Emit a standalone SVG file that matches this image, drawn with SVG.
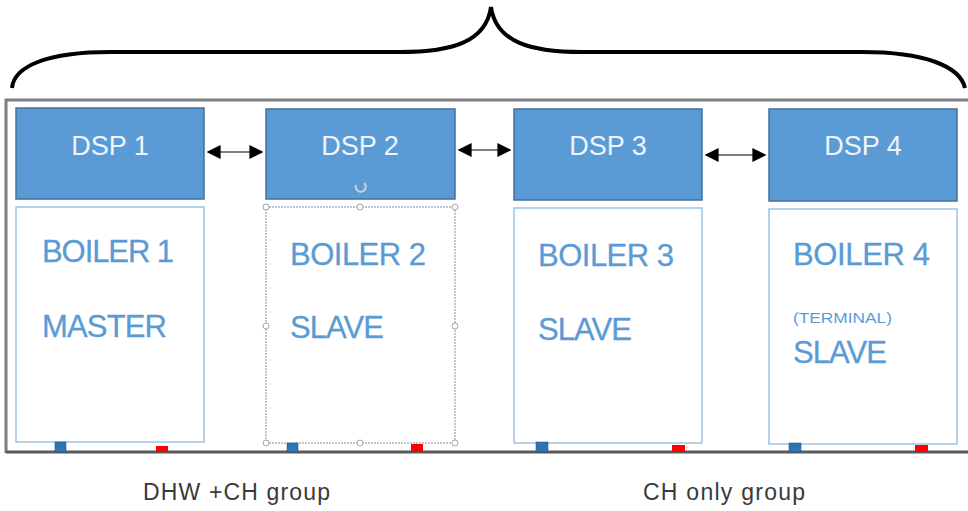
<svg xmlns="http://www.w3.org/2000/svg" width="968" height="511" viewBox="0 0 968 511">
<defs>
<style>
.dsp{fill:#5B9BD5;stroke:#41719C;stroke-width:1.5}
.dspt{font-family:"Liberation Sans",Arial,sans-serif;font-size:27px;fill:#EEF4FA;text-anchor:middle}
.boiler{fill:#FFFFFF;stroke:#9DC3E6;stroke-width:1.5}
.bt{font-family:"Liberation Sans",Arial,sans-serif;font-size:31px;fill:#5B9BD5;stroke:#5B9BD5;stroke-width:0.3}
.small{font-family:"Liberation Sans",Arial,sans-serif;font-size:15px;fill:#5B9BD5}
.lbl{font-family:"Liberation Sans",Arial,sans-serif;font-size:23px;fill:#3A3A3A}
.blue{fill:#2E75B6;stroke:#1F4E79;stroke-width:0.5}
.red{fill:#FF0000}
.conn{stroke:#7F7F7F;stroke-width:2;fill:none;marker-start:url(#ah);marker-end:url(#ah)}
.handle{fill:#FFFFFF;stroke:#A6A6A6;stroke-width:1}
</style>
<marker id="ah" viewBox="0 0 10 10" refX="9" refY="5" markerWidth="7" markerHeight="7" orient="auto-start-reverse" markerUnits="strokeWidth">
<path d="M0,0 L10,5 L0,10 z" fill="#000000"/>
</marker>
</defs>
<rect width="968" height="511" fill="#FFFFFF"/>

<g id="brace">
<path d="M12,88 C14,66 48,52 110,52 L400,52 C452,52 486,42 491,7 C496,42 530,52 582,52 L862,52 C924,52 960,66 965,88" fill="none" stroke="#000000" stroke-width="4"/>
</g>

<g id="frame">
<path d="M6,453 L6,100 L970,100" fill="none" stroke="#7F7F7F" stroke-width="3"/>
<path d="M6,452 L970,452" fill="none" stroke="#595959" stroke-width="3"/>
</g>

<g id="dsp1"><rect class="dsp" x="16" y="108" width="188" height="91"/><text class="dspt" x="110" y="155">DSP 1</text></g>
<g id="dsp2"><rect class="dsp" x="266" y="109" width="189" height="90"/><text class="dspt" x="360" y="155">DSP 2</text>
<path d="M364,183 A5,5 0 1 1 356,185" fill="none" stroke="#D0D0D0" stroke-width="2"/></g>
<g id="dsp3"><rect class="dsp" x="514" y="109" width="188" height="91"/><text class="dspt" x="608" y="155">DSP 3</text></g>
<g id="dsp4"><rect class="dsp" x="769" y="109" width="188" height="92"/><text class="dspt" x="863" y="155">DSP 4</text></g>

<g id="boiler1">
<rect class="boiler" x="16" y="207" width="188" height="235"/>
<text class="bt" x="42" y="262" textLength="132">BOILER 1</text>
<text class="bt" x="42" y="337" textLength="125">MASTER</text>
<rect class="blue" x="55" y="442" width="11" height="10"/>
<rect class="red" x="156" y="446" width="12" height="6"/>
</g>

<g id="boiler2">
<rect x="266" y="207" width="189" height="236" fill="#FFFFFF" stroke="#A6B8C8" stroke-width="1.5" stroke-dasharray="2,1"/>
<text class="bt" x="290" y="265" textLength="136">BOILER 2</text>
<text class="bt" x="290" y="338" textLength="94">SLAVE</text>
<rect class="blue" x="287" y="443" width="11" height="9"/>
<rect class="red" x="411" y="444" width="12" height="8"/>
<circle class="handle" cx="266" cy="207" r="3"/><circle class="handle" cx="360" cy="207" r="3"/><circle class="handle" cx="455" cy="207" r="3"/>
<circle class="handle" cx="266" cy="326" r="3"/><circle class="handle" cx="455" cy="326" r="3"/>
<circle class="handle" cx="266" cy="443" r="3"/><circle class="handle" cx="360" cy="443" r="3"/><circle class="handle" cx="455" cy="443" r="3"/>
</g>

<g id="boiler3">
<rect class="boiler" x="514" y="208" width="188" height="235"/>
<text class="bt" x="538" y="266" textLength="136">BOILER 3</text>
<text class="bt" x="538" y="340" textLength="94">SLAVE</text>
<rect class="blue" x="536" y="442" width="12" height="10"/>
<rect class="red" x="672" y="445" width="13" height="7"/>
</g>

<g id="boiler4">
<rect class="boiler" x="769" y="209" width="188" height="235"/>
<text class="bt" x="793" y="265" textLength="137">BOILER 4</text>
<text class="small" x="793" y="323" textLength="99" lengthAdjust="spacingAndGlyphs">(TERMINAL)</text>
<text class="bt" x="793" y="363" textLength="94">SLAVE</text>
<rect class="blue" x="789" y="443" width="12" height="9"/>
<rect class="red" x="915" y="445" width="13" height="7"/>
</g>

<g id="connectors">
<line class="conn" x1="208" y1="152" x2="262" y2="152"/>
<line class="conn" x1="459" y1="150" x2="510" y2="150"/>
<line class="conn" x1="706" y1="155" x2="765" y2="155"/>
</g>

<g id="labels">
<text class="lbl" x="143" y="500" textLength="187">DHW +CH  group</text>
<text class="lbl" x="643" y="500" textLength="162">CH only group</text>
</g>
</svg>
